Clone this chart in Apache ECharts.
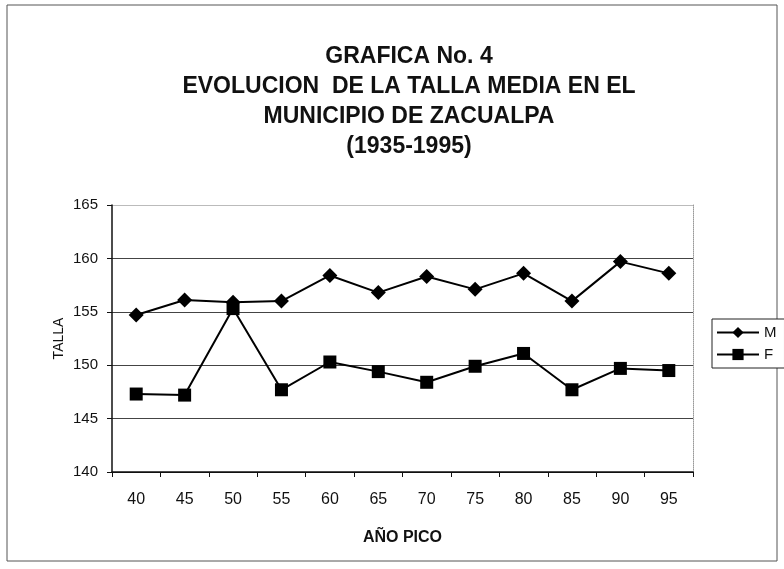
<!DOCTYPE html>
<html>
<head>
<meta charset="utf-8">
<script src="https://cdn.jsdelivr.net/npm/echarts@6/dist/echarts.min.js"></script>
<style>
    html, body { margin: 0; padding: 0; background: #fff; }
    #main { width: 784px; height: 569px; }
</style>
</head>
<body>
<div id="main"></div>
<script>
// años pico (eje x)
let years = ["40", "45", "50", "55", "60", "65", "70", "75", "80", "85", "90", "95"];
// talla media, hombres
let valuesM = [154.7, 156.1, 155.9, 156.0, 158.4, 156.8, 158.3, 157.1, 158.6, 156.0, 159.7, 158.6];
// talla media, mujeres
let valuesF = [147.3, 147.2, 155.3, 147.7, 150.3, 149.4, 148.4, 149.9, 151.1, 147.7, 149.7, 149.5];

let myChart = echarts.init(document.getElementById("main"));

let fontFamily = "Liberation Sans, Arial, sans-serif";

let option = {
    backgroundColor: "#fff",
    animation: false,
    title: {
        text: "GRAFICA No. 4\nEVOLUCION  DE LA TALLA MEDIA EN EL\nMUNICIPIO DE ZACUALPA\n(1935-1995)",
        left: 404,
        textAlign: "center",
        top: 37,
        textStyle: {
            fontFamily,
            fontSize: 23,
            fontWeight: "bold",
            color: "#111",
            lineHeight: 30
        }
    },
    legend: {
        orient: "vertical",
        left: 712,
        top: 319,
        itemWidth: 42,
        itemHeight: 14,
        itemGap: 7,
        padding: [6, 8, 6, 4],
        borderColor: "#222",
        borderWidth: 1,
        backgroundColor: "#fff",
        textStyle: { fontFamily, fontSize: 15, color: "#111" },
        data: ["M", "F"]
    },
    grid: {
        left: 112,
        right: 91,
        top: 205,
        bottom: 97
    },
    xAxis: {
        type: "category",
        data: years,
        boundaryGap: true,
        name: "AÑO PICO",
        nameLocation: "middle",
        nameGap: 58,
        nameTextStyle: { fontFamily, fontSize: 16, fontWeight: "bold", color: "#111" },
        axisLine: { lineStyle: { color: "#111", width: 1.5 } },
        axisTick: { show: true, inside: false, length: 5, lineStyle: { color: "#111" } },
        axisLabel: { fontFamily, fontSize: 16, color: "#111", margin: 20 },
        splitLine: { show: false }
    },
    yAxis: [
        {
            type: "value",
            min: 140,
            max: 165,
            interval: 5,
            name: "TALLA",
            nameLocation: "middle",
            nameGap: 46,
            nameMoveOverlap: false,
            nameRotate: 90,
            nameTextStyle: { fontFamily, fontSize: 14, color: "#111" },
            axisLine: { show: true, lineStyle: { color: "#111", width: 1.5 } },
            axisTick: { show: true, length: 5, lineStyle: { color: "#111" } },
            axisLabel: { fontFamily, fontSize: 15, color: "#111", margin: 14 },
            splitLine: {
                show: true,
                lineStyle: {
                    color: ["#111", "#444", "#444", "#444", "#444", "#bbb"],
                    width: 1.2
                }
            }
        },
        {
            type: "value",
            min: 140,
            max: 165,
            interval: 5,
            position: "right",
            axisLine: { show: true, lineStyle: { color: "#999", type: "dotted", width: 1 } },
            axisTick: { show: false },
            axisLabel: { show: false },
            splitLine: { show: false }
        }
    ],
    graphic: [
        {
            type: "rect",
            shape: { x: 7, y: 5, width: 770, height: 556 },
            style: { fill: "none", stroke: "#555", lineWidth: 1 },
            silent: true
        }
    ],
    series: [
        {
            name: "M",
            type: "line",
            data: valuesM,
            symbol: "diamond",
            symbolSize: 15,
            itemStyle: { color: "#000" },
            lineStyle: { color: "#000", width: 2 }
        },
        {
            name: "F",
            type: "line",
            data: valuesF,
            symbol: "rect",
            symbolSize: 13,
            itemStyle: { color: "#000" },
            lineStyle: { color: "#000", width: 2 }
        }
    ]
};

myChart.setOption(option);
</script>
</body>
</html>
